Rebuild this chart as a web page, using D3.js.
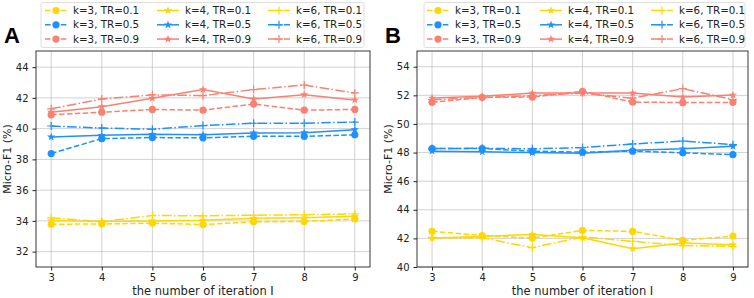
<!DOCTYPE html>
<html>
<head>
<meta charset="utf-8">
<script src="https://cdn.jsdelivr.net/npm/d3@7"></script>
<style>
  body { margin: 0; background: #fff; }
  svg { font-family: "DejaVu Sans", sans-serif; }
</style>
</head>
<body>
<svg id="chart" width="754" height="298"></svg>
<script>
// iterations on the x axis
const iterations = [3, 4, 5, 6, 7, 8, 9];

// panel A values, Micro-F1 (%)
const a_k3_tr01 = [33.78, 33.80, 33.85, 33.76, 33.94, 33.96, 34.13];
const a_k4_tr01 = [34.02, 33.96, 34.00, 34.04, 34.17, 34.20, 34.30];
const a_k6_tr01 = [34.20, 33.95, 34.35, 34.33, 34.37, 34.40, 34.45];
const a_k3_tr05 = [38.38, 39.35, 39.42, 39.40, 39.50, 39.50, 39.60];
const a_k4_tr05 = [39.46, 39.57, 39.63, 39.60, 39.72, 39.74, 39.93];
const a_k6_tr05 = [40.17, 40.04, 39.96, 40.20, 40.35, 40.35, 40.43];
const a_k3_tr09 = [40.90, 41.07, 41.25, 41.20, 41.60, 41.20, 41.25];
const a_k4_tr09 = [41.07, 41.43, 41.98, 42.54, 41.93, 42.21, 41.87];
const a_k6_tr09 = [41.29, 41.93, 42.20, 42.15, 42.54, 42.84, 42.32];

// panel B values
const b_k3_tr01 = [42.50, 42.20, 42.02, 42.56, 42.49, 41.86, 42.16];
const b_k4_tr01 = [42.02, 42.14, 42.28, 42.05, 41.28, 41.68, 41.56];
const b_k6_tr01 = [42.05, 42.05, 41.35, 42.10, 41.80, 41.50, 41.44];
const b_k3_tr05 = [48.28, 48.28, 48.10, 48.03, 48.10, 47.98, 47.86];
const b_k4_tr05 = [48.10, 48.05, 48.00, 47.95, 48.16, 48.26, 48.44];
const b_k6_tr05 = [48.28, 48.30, 48.26, 48.35, 48.60, 48.80, 48.56];
const b_k3_tr09 = [51.51, 51.86, 51.88, 52.28, 51.53, 51.49, 51.51];
const b_k4_tr09 = [51.81, 51.93, 52.16, 52.16, 52.16, 51.88, 52.02];
const b_k6_tr09 = [51.70, 51.84, 51.98, 52.16, 51.80, 52.47, 51.70];

const aTicks = [32, 34, 36, 38, 40, 42, 44];
const bTicks = [40, 42, 44, 46, 48, 50, 52, 54];

const trColor = {"0.1": "#FFD700", "0.5": "#1E90FF", "0.9": "#FA8072"};
const kStyle = {
  3: {dash: "5.5,2.4", marker: "circle"},
  4: {dash: null, marker: "star"},
  6: {dash: "9.6,2.4,1.5,2.4", marker: "plus"}
};

function seriesList(p) {
  const out = [];
  [["0.1", p.tr01], ["0.5", p.tr05], ["0.9", p.tr09]].forEach(([tr, arr]) => {
    arr.forEach((vals, i) => {
      const k = [3, 4, 6][i];
      out.push({k, tr, vals});
    });
  });
  return out;
}

const panels = [
  {label: "A", left: 36, right: 370, yDomain: [31.0, 45.05], ticks: aTicks,
   legend: {x: 41, w: 323, cols: [45, 157, 268]},
   tr01: [a_k3_tr01, a_k4_tr01, a_k6_tr01],
   tr05: [a_k3_tr05, a_k4_tr05, a_k6_tr05],
   tr09: [a_k3_tr09, a_k4_tr09, a_k6_tr09]},
  {label: "B", left: 417, right: 748, yDomain: [40.0, 55.1], ticks: bTicks,
   legend: {x: 424, w: 321, cols: [427, 540, 651]},
   tr01: [b_k3_tr01, b_k4_tr01, b_k6_tr01],
   tr05: [b_k3_tr05, b_k4_tr05, b_k6_tr05],
   tr09: [b_k3_tr09, b_k4_tr09, b_k6_tr09]}
];

const svg = d3.select("#chart");
const plotTop = 51, plotBottom = 267;

const starPath = d3.symbol(d3.symbolStar, 22)();

function drawMarker(g, type, x, y, color) {
  if (type === "circle") {
    g.append("circle").attr("cx", x).attr("cy", y).attr("r", 3.6).attr("fill", color);
  } else if (type === "star") {
    g.append("path").attr("d", starPath).attr("transform", `translate(${x},${y})`).attr("fill", color);
  } else {
    g.append("path").attr("d", `M${x - 4},${y}H${x + 4}M${x},${y - 4}V${y + 4}`)
      .attr("stroke", color).attr("stroke-width", 1.2);
  }
}

panels.forEach(p => {
  const x = d3.scaleLinear().domain([2.7, 9.3]).range([p.left, p.right]);
  const y = d3.scaleLinear().domain(p.yDomain).range([plotBottom, plotTop]);
  const g = svg.append("g");

  // grid
  g.append("g").selectAll("line").data(iterations).join("line")
    .attr("x1", d => x(d)).attr("x2", d => x(d)).attr("y1", plotTop).attr("y2", plotBottom)
    .attr("stroke", "#b0b0b0").attr("stroke-width", 0.8).attr("opacity", 0.7);
  g.append("g").selectAll("line").data(p.ticks).join("line")
    .attr("x1", p.left).attr("x2", p.right).attr("y1", d => y(d)).attr("y2", d => y(d))
    .attr("stroke", "#b0b0b0").attr("stroke-width", 0.8).attr("opacity", 0.7);

  // axes
  const xAxis = g.append("g").attr("transform", `translate(0,${plotBottom})`)
    .call(d3.axisBottom(x).tickValues(iterations).tickFormat(d3.format("d")).tickSize(3.5).tickPadding(3));
  const yAxis = g.append("g").attr("transform", `translate(${p.left},0)`)
    .call(d3.axisLeft(y).tickValues(p.ticks).tickFormat(d3.format("d")).tickSize(3.5).tickPadding(4));
  [xAxis, yAxis].forEach(a => {
    a.select(".domain").remove();
    a.selectAll("text").attr("font-size", 10).attr("fill", "#222").attr("font-family", "DejaVu Sans");
    a.selectAll("line").attr("stroke", "#222");
  });

  // lines
  const line = d3.line().x((d, i) => x(iterations[i])).y(d => y(d));
  const lines = g.append("g");
  seriesList(p).forEach(s => {
    const st = kStyle[s.k];
    const color = trColor[s.tr];
    lines.append("path").attr("d", line(s.vals)).attr("fill", "none")
      .attr("stroke", color).attr("stroke-width", 1.5)
      .attr("stroke-dasharray", st.dash);
    s.vals.forEach((v, i) => drawMarker(lines, st.marker, x(iterations[i]), y(v), color));
  });

  // frame
  g.append("rect").attr("x", p.left).attr("y", plotTop)
    .attr("width", p.right - p.left).attr("height", plotBottom - plotTop)
    .attr("fill", "none").attr("stroke", "#222").attr("stroke-width", 0.9);

  // axis titles
  g.append("text").attr("x", (p.left + p.right) / 2).attr("y", 294.5)
    .attr("text-anchor", "middle").attr("font-size", 11.5).attr("fill", "#222")
    .text("the number of iteration I");
  g.append("text")
    .attr("transform", `translate(${p.left - 25},${(plotTop + plotBottom) / 2}) rotate(-90)`)
    .attr("text-anchor", "middle").attr("font-size", 11).attr("fill", "#222")
    .text("Micro-F1 (%)");

  // panel letter
  g.append("text").attr("x", p.left - 32).attr("y", 43)
    .attr("font-size", 22).attr("font-weight", "bold").attr("font-family", "Liberation Sans, Arial, sans-serif")
    .text(p.label);

  // legend
  const lg = g.append("g");
  lg.append("rect").attr("x", p.legend.x).attr("y", 2.5).attr("width", p.legend.w).attr("height", 45)
    .attr("rx", 2).attr("fill", "#fff").attr("fill-opacity", 0.8)
    .attr("stroke", "#d6d6d6").attr("stroke-width", 0.8);
  const rowsTR = ["0.1", "0.5", "0.9"];
  [3, 4, 6].forEach((k, ci) => {
    rowsTR.forEach((tr, ri) => {
      const cx = p.legend.cols[ci];
      const cy = 10.5 + ri * 14.3;
      const color = trColor[tr];
      lg.append("line").attr("x1", cx).attr("x2", cx + 22).attr("y1", cy).attr("y2", cy)
        .attr("stroke", color).attr("stroke-width", 1.5).attr("stroke-dasharray", kStyle[k].dash);
      drawMarker(lg, kStyle[k].marker, cx + 11, cy, color);
      lg.append("text").attr("x", cx + 28).attr("y", cy + 3.6)
        .attr("font-size", 10.3).attr("fill", "#222")
        .text(`k=${k}, TR=${tr}`);
    });
  });
});
</script>
</body>
</html>
